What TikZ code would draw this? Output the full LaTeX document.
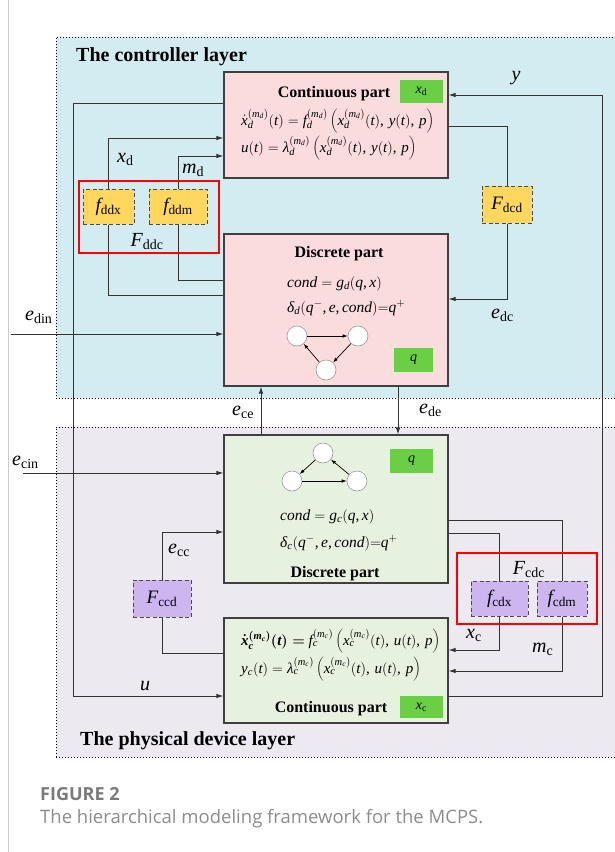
\documentclass[tikz,border=0pt]{standalone}
\usepackage{fontspec}
\setmainfont{Liberation Serif}
\newfontfamily\capfont{Open Sans}
\newfontfamily\mathtextfont{Liberation Serif}[NFSSFamily=libser]
\usetikzlibrary{arrows.meta}

% Times-like letters, digits and Greek in formulas
\DeclareSymbolFont{tletters}{TU}{libser}{m}{it}
\DeclareSymbolFont{troman}{TU}{libser}{m}{n}
\SetSymbolFont{tletters}{bold}{TU}{libser}{b}{it}
\SetSymbolFont{troman}{bold}{TU}{libser}{b}{n}
\makeatletter
\count@=`a
\loop
  \Umathcode\count@="7 \symtletters \count@
  \ifnum\count@<`z \advance\count@ 1 \repeat
\count@=`A
\loop
  \Umathcode\count@="7 \symtletters \count@
  \ifnum\count@<`Z \advance\count@ 1 \repeat
\count@=`0
\loop
  \Umathcode\count@="7 \symtroman \count@
  \ifnum\count@<`9 \advance\count@ 1 \repeat
\makeatother
\Umathcode`(="4 \symtroman `(
\Umathcode`)="5 \symtroman `)
\Umathcode`,="6 \symtroman `,
\Umathcode`=="3 \symtroman `=
\Umathcode`+="2 \symtroman `+
\Umathchardef\lambda="7 \symtletters "03BB
\Umathchardef\delta="7 \symtletters "03B4
% argument separator with a little extra room
\newcommand{\argsep}{,\,}

\definecolor{ctrlbg}{HTML}{D3ECF2}
\definecolor{physbg}{HTML}{ECE9F1}
\definecolor{pinkfill}{HTML}{FBDCDC}
\definecolor{greenfill}{HTML}{E7F1DF}
\definecolor{yellowfill}{HTML}{FFD75E}
\definecolor{purplefill}{HTML}{CDB5F0}
\definecolor{taggreen}{HTML}{6ACF45}
\definecolor{capgray}{HTML}{7A7A7A}
\definecolor{capgraylight}{HTML}{8C8C8C}

\begin{document}
\begin{tikzpicture}[x=1pt,y=-1pt,
  layer/.style={draw=black, dotted, line width=1pt, inner sep=0pt},
  partbox/.style={draw=black!75, line width=1.1pt, inner sep=0pt},
  fnbox/.style={draw=black!70, dash pattern=on 4pt off 2.5pt, line width=1pt, inner sep=0pt, font=\fontsize{19}{21}\selectfont},
  tag/.style={fill=taggreen, inner sep=0pt, font=\fontsize{14}{16}\selectfont},
  wire/.style={draw=black!80, line width=0.9pt},
  arr/.style={-{Latex[length=7pt,width=4.5pt]}},
  lbl/.style={inner sep=0pt, anchor=base west, font=\fontsize{20}{22}\selectfont},
  eqn/.style={inner sep=0pt, anchor=base west, font=\fontsize{15}{17}\selectfont},
  deqn/.style={inner sep=0pt, anchor=base west, font=\fontsize{15.5}{17}\selectfont},
  parttitle/.style={inner sep=0pt, anchor=base, font=\fontsize{16}{18}\selectfont\bfseries},
  layertitle/.style={inner sep=0pt, anchor=base west, font=\fontsize{20}{22}\selectfont\bfseries},
  qstate/.style={circle, draw=black!40, fill=white, minimum size=20pt, inner sep=0pt, line width=0.6pt},
  tarr/.style={draw=black, line width=0.7pt, -{Latex[length=5pt,width=3.5pt]}},
  redframe/.style={draw=red, line width=2pt}
]
\useasboundingbox[fill=white] (0,0) rectangle (614,852);

% page rule on the left
\draw[draw=black!20, line width=1pt] (8,0) -- (8,852);

% layers
\node[layer, fill=ctrlbg, minimum width=560pt, minimum height=361pt] (ctrl) at (336,217.5) {};
\node[layer, fill=physbg, minimum width=560pt, minimum height=330pt] (phys) at (336,592) {};
\node[layertitle] (ctrltitle) at (76,61) {The controller layer};
\node[layertitle] (phystitle) at (80,745) {The physical device layer};

% controller: continuous part
\node[partbox, fill=pinkfill, minimum width=224pt, minimum height=106pt] (dcont) at (336,125) {};
\node[tag, minimum width=43pt, minimum height=23pt] (tagxd) at (421.5,91.5) {$x_{\mathrm{d}}$};
\node[parttitle] (dconttitle) at (334,97) {Continuous part};
\node[eqn] (dcontA) at (241,125) {$\dot{x}_d^{(m_d)}(t) = f_d^{(m_d)}\left(x_d^{(m_d)}(t)\argsep y(t)\argsep p\right)$};
\node[eqn] (dcontB) at (241,152) {$u(t) = \lambda_d^{(m_d)}\left(x_d^{(m_d)}(t)\argsep y(t)\argsep p\right)$};

% controller: discrete part
\node[partbox, fill=pinkfill, minimum width=224pt, minimum height=152pt] (ddisc) at (336,310) {};
\node[parttitle] (ddisctitle) at (339,257) {Discrete part};
\node[deqn] (ddiscA) at (287,287) {$\mathit{cond} = g_d(q,x)$};
\node[deqn] (ddiscB) at (287,312) {$\delta_d(q^-, e, \mathit{cond}){=}q^+$};
\node[tag, minimum width=39pt, minimum height=24pt] (tagqd) at (413.5,360) {$q$};
\node[qstate] (a1) at (297,336) {};
\node[qstate] (a2) at (358,336) {};
\node[qstate] (a3) at (326,370) {};
\draw[tarr] (a1) -- (a2);
\draw[tarr] (a2) -- (a3);
\draw[tarr] (a3) -- (a1);

% physical: discrete part
\node[partbox, fill=greenfill, minimum width=224pt, minimum height=148pt] (cdisc) at (336,509) {};
\node[tag, minimum width=43pt, minimum height=24pt] (tagqc) at (411.5,461) {$q$};
\node[qstate] (b1) at (323,453) {};
\node[qstate] (b2) at (292,481) {};
\node[qstate] (b3) at (357,481) {};
\draw[tarr] (b1) -- (b2);
\draw[tarr] (b2) -- (b3);
\draw[tarr] (b3) -- (b1);
\node[deqn] (cdiscA) at (280,520) {$\mathit{cond} = g_c(q,x)$};
\node[deqn] (cdiscB) at (280,547) {$\delta_c(q^-, e, \mathit{cond}){=}q^+$};
\node[parttitle] (cdisctitle) at (335,577) {Discrete part};

% physical: continuous part
\node[partbox, fill=greenfill, minimum width=224pt, minimum height=105pt] (ccont) at (336,670.5) {};
\node[eqn] (ccontA) at (241,645) {\mbox{\boldmath$\dot{x}_c^{(m_c)}(t) =$} $f_c^{(m_c)}\left(x_c^{(m_c)}(t)\argsep u(t)\argsep p\right)$};
\node[eqn] (ccontB) at (241,673) {$y_c(t) = \lambda_c^{(m_c)}\left(x_c^{(m_c)}(t)\argsep u(t)\argsep p\right)$};
\node[parttitle] (cconttitle) at (331,712) {Continuous part};
\node[tag, minimum width=43pt, minimum height=22pt] (tagxc) at (421.5,707) {$x_{\mathrm{c}}$};

% interface function blocks
\node[fnbox, fill=yellowfill, minimum width=51pt, minimum height=35pt] (fddx) at (108.5,206.5) {$f_{\mathrm{ddx}}$};
\node[fnbox, fill=yellowfill, minimum width=58pt, minimum height=35pt] (fddm) at (178,206.5) {$f_{\mathrm{ddm}}$};
\node[fnbox, fill=yellowfill, minimum width=50pt, minimum height=37pt] (fdcd) at (507,204.5) {$F_{\mathrm{dcd}}$};
\node[fnbox, fill=purplefill, minimum width=58pt, minimum height=37pt] (fccd) at (162,598.5) {$F_{\mathrm{ccd}}$};
\node[fnbox, fill=purplefill, minimum width=57pt, minimum height=35pt] (fcdx) at (499.5,598.5) {$f_{\mathrm{cdx}}$};
\node[fnbox, fill=purplefill, minimum width=50pt, minimum height=35pt] (fcdm) at (562,598.5) {$f_{\mathrm{cdm}}$};

% wiring levels
\coordinate (uTop) at (73,103);
\coordinate (uBot) at (73,696);
\coordinate (xdY) at (0,138);
\coordinate (mdY) at (0,156);
\coordinate (ddxY) at (0,295);
\coordinate (ddmY) at (0,280);
\coordinate (edinS) at (11,334);
\coordinate (ceX) at (261,0);
\coordinate (deX) at (398,0);
\coordinate (ecinS) at (23,473);
\coordinate (ccY) at (0,532);
\coordinate (ccdY) at (0,653);
\coordinate (dcdY) at (0,126);
\coordinate (dcY) at (0,299);
\coordinate (yBot) at (602,696);
\coordinate (yTop) at (602,95);
\coordinate (cdmY) at (0,520);
\coordinate (cdxY) at (0,533);
\coordinate (xcY) at (0,650);
\coordinate (mcY) at (0,671);

% connectors
\draw[wire,arr] (dcont.west |- uTop) -- (uTop) -- (uBot) -- (ccont.west |- uBot);
\draw[wire,arr] (fddx.north) |- (dcont.west |- xdY);
\draw[wire,arr] (fddm.north) |- (dcont.west |- mdY);
\draw[wire] (fddx.south) |- (ddisc.west |- ddxY);
\draw[wire] (fddm.south) |- (ddisc.west |- ddmY);
\draw[wire,arr] (edinS) -- (ddisc.west |- edinS);
\draw[wire,arr] (cdisc.north -| ceX) -- (ddisc.south -| ceX);
\draw[wire,arr] (ddisc.south -| deX) -- (cdisc.north -| deX);
\draw[wire,arr] (ecinS) -- (cdisc.west |- ecinS);
\draw[wire,arr] (fccd.north) |- (cdisc.west |- ccY);
\draw[wire] (fccd.south) |- (ccont.west |- ccdY);
\draw[wire] (fdcd.north) |- (dcont.east |- dcdY);
\draw[wire,arr] (fdcd.south) |- (ddisc.east |- dcY);
\draw[wire,arr] (ccont.east |- yBot) -- (yBot) -- (yTop) -- (dcont.east |- yTop);
\draw[wire] (cdisc.east |- cdmY) -| (fcdm.north);
\draw[wire] (cdisc.east |- cdxY) -| (fcdx.north);
\draw[wire,arr] (fcdx.south) |- (ccont.east |- xcY);
\draw[wire,arr] (fcdm.south) |- (ccont.east |- mcY);

% coupling frames
\node[redframe, inner sep=0pt, minimum width=140pt, minimum height=72pt] (fddc) at (149,217) {};
\node[redframe, inner sep=0pt, minimum width=140pt, minimum height=71pt] (fcdc) at (527,588.5) {};

% signal labels
\node[lbl, anchor=base] (ylbl) at (516,80) {$y$};
\node[lbl] (xdlbl) at (117,162) {$x_{\mathrm{d}}$};
\node[lbl] (mdlbl) at (182,173) {$m_{\mathrm{d}}$};
\node[lbl, anchor=base] (fddclbl) at (147,246) {$F_{\mathrm{ddc}}$};
\node[lbl] (edinlbl) at (25,320) {$e_{\mathrm{din}}$};
\node[lbl] (edclbl) at (491,318) {$e_{\mathrm{dc}}$};
\node[lbl] (ecelbl) at (232,415) {$e_{\mathrm{ce}}$};
\node[lbl] (edelbl) at (419,413) {$e_{\mathrm{de}}$};
\node[lbl] (ecinlbl) at (12,465) {$e_{\mathrm{cin}}$};
\node[lbl] (ecclbl) at (168,553) {$e_{\mathrm{cc}}$};
\node[lbl, anchor=base] (ulbl) at (145,690) {$u$};
\node[lbl] (xclbl) at (466,638) {$x_{\mathrm{c}}$};
\node[lbl] (mclbl) at (532,652) {$m_{\mathrm{c}}$};
\node[lbl, anchor=base] (fcdclbl) at (529,574) {$F_{\mathrm{cdc}}$};

% caption
\node[anchor=base west, inner sep=0pt, text=capgray, font=\capfont\bfseries\fontsize{18}{20}\selectfont] (figno) at (40,800) {FIGURE 2};
\node[anchor=base west, inner sep=0pt, text=capgraylight, font=\capfont\fontsize{18.5}{20}\selectfont] (figcap) at (40,823) {The hierarchical modeling framework for the MCPS.};
\end{tikzpicture}
\end{document}
